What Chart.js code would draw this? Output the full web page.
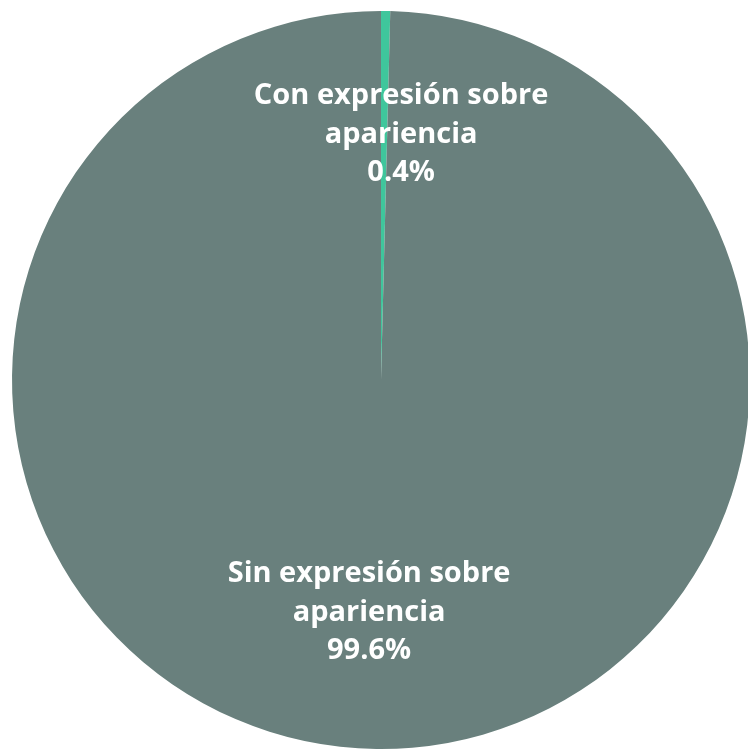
<!DOCTYPE html>
<html>
<head>
<meta charset="utf-8">
<script src="https://cdn.jsdelivr.net/npm/chart.js@4"></script>
<style>
  html, body { margin:0; padding:0; background:#fff; overflow:hidden; }
  #wrap { position:absolute; left:0; top:0; width:762px; height:760px; }
</style>
</head>
<body>
<div id="wrap"><canvas id="pie"></canvas></div>
<script>
const labels = [['Con expresión sobre', 'apariencia'], ['Sin expresión sobre', 'apariencia']];
const values = [0.4, 99.6];
const colors = ['#3fc69c', '#69807d'];

// label placement: fraction of radius along slice mid-angle, plus a sideways nudge
const labelDist = [0.665, 0.63];
const labelShift = [17, -9];

const pieLabels = {
  id:'pieLabels',
  afterDatasetsDraw(chart){
    const {ctx} = chart;
    const meta = chart.getDatasetMeta(0);
    ctx.save();
    ctx.fillStyle = '#fff';
    ctx.font = 'bold 29px "Open Sans"';
    ctx.textAlign = 'center';
    ctx.textBaseline = 'middle';
    meta.data.forEach((arc, i) => {
      const p = arc.getProps(['x','y','startAngle','endAngle','outerRadius'], true);
      const mid = (p.startAngle + p.endAngle) / 2;
      const r = p.outerRadius * labelDist[i];
      const cx = p.x + Math.cos(mid) * r + labelShift[i];
      const cy = p.y + Math.sin(mid) * r;
      const lines = [...labels[i], values[i].toFixed(1) + '%'];
      const lh = 38.5;
      lines.forEach((t, k) => ctx.fillText(t, cx, cy + (k - (lines.length-1)/2) * lh));
    });
    ctx.restore();
  }
};

new Chart(document.getElementById('pie'), {
  type:'pie',
  data:{
    labels: labels.map(l => l.join(' ')),
    datasets:[{ data: values, backgroundColor: colors, borderWidth:0 }]
  },
  options:{
    responsive:true,
    maintainAspectRatio:false,
    animation:false,
    layout:{ padding:{ left:9, right:9, top:11, bottom:11 } },
    plugins:{ legend:{ display:false }, tooltip:{ enabled:false } }
  },
  plugins:[pieLabels]
});
</script>
</body>
</html>
